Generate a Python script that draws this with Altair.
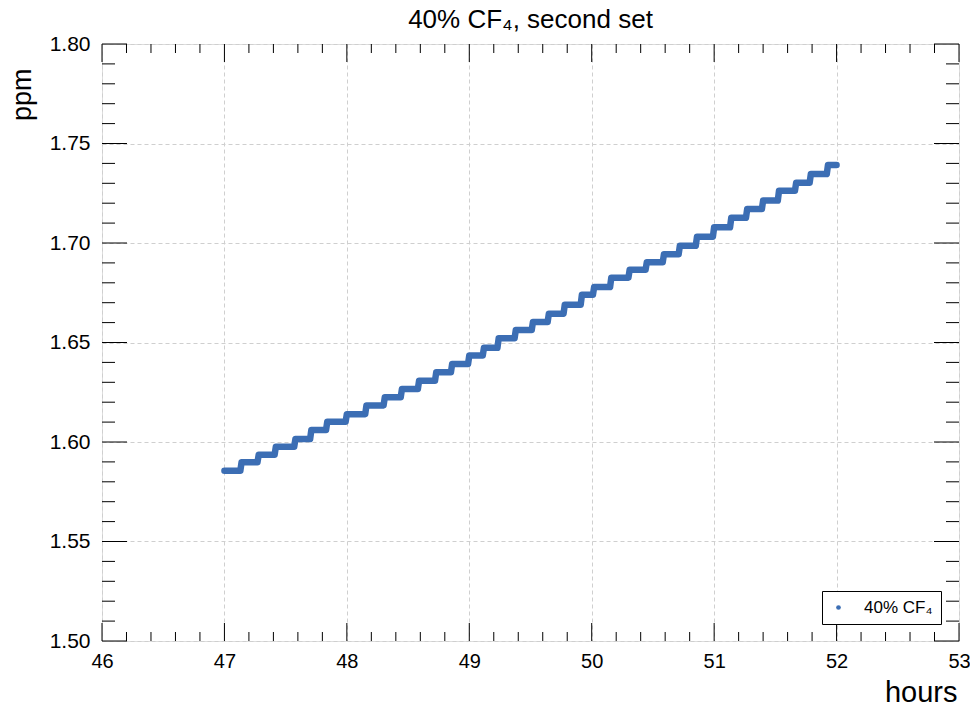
import altair as alt
import pandas as pd

# ---- data (staircase of 37 plateaus) ----
step_start = [47.00, 47.14, 47.28, 47.42, 47.58, 47.71, 47.84, 48.00, 48.16, 48.31,
              48.45, 48.59, 48.73, 48.86, 49.00, 49.12, 49.24, 49.38, 49.52, 49.65,
              49.78, 49.92, 50.02, 50.16, 50.31, 50.45, 50.59, 50.72, 50.86, 51.00,
              51.14, 51.27, 51.40, 51.53, 51.67, 51.79, 51.93]
step_end = [47.13, 47.27, 47.41, 47.57, 47.70, 47.83, 47.99, 48.15, 48.30, 48.44,
            48.58, 48.72, 48.85, 48.99, 49.11, 49.23, 49.37, 49.51, 49.64, 49.77,
            49.91, 50.01, 50.15, 50.30, 50.44, 50.58, 50.71, 50.85, 50.99, 51.13,
            51.26, 51.39, 51.52, 51.66, 51.78, 51.92, 52.00]
step_ppm = [1.5856, 1.5898, 1.5936, 1.5976, 1.6015, 1.6060, 1.6102, 1.6140, 1.6184, 1.6225,
            1.6266, 1.6308, 1.6350, 1.6392, 1.6435, 1.6473, 1.6521, 1.6563, 1.6603, 1.6645,
            1.6690, 1.6740, 1.6779, 1.6826, 1.6866, 1.6903, 1.6943, 1.6986, 1.7032, 1.7079,
            1.7127, 1.7171, 1.7213, 1.7263, 1.7303, 1.7347, 1.7392]
series_name = "40% CF\u2084"
title_text = "40% CF\u2084, second set"

x_major = [46, 47, 48, 49, 50, 51, 52, 53]
x_minor = [46.2, 46.4, 46.6, 46.8, 47.2, 47.4, 47.6, 47.8, 48.2, 48.4, 48.6, 48.8,
           49.2, 49.4, 49.6, 49.8, 50.2, 50.4, 50.6, 50.8, 51.2, 51.4, 51.6, 51.8,
           52.2, 52.4, 52.6, 52.8]
y_major = [1.50, 1.55, 1.60, 1.65, 1.70, 1.75, 1.80]
y_minor = [1.51, 1.52, 1.53, 1.54, 1.56, 1.57, 1.58, 1.59, 1.61, 1.62, 1.63, 1.64,
           1.66, 1.67, 1.68, 1.69, 1.71, 1.72, 1.73, 1.74, 1.76, 1.77, 1.78, 1.79]

rows = []
for i, (s, e, p) in enumerate(zip(step_start, step_end, step_ppm)):
    rows.append({"hours": s, "ppm": p, "order": 2 * i, "series": series_name})
    rows.append({"hours": e, "ppm": p, "order": 2 * i + 1, "series": series_name})
df = pd.DataFrame(rows)

W, H = 857, 597
FONT = "Liberation Sans"
BLUE = "#3c6eb4"

xscale = alt.Scale(domain=[46, 53], nice=False, zero=False)
yscale = alt.Scale(domain=[1.5, 1.8], nice=False, zero=False)

xaxis = alt.Axis(values=x_major, format="d", title="hours", grid=True, ticks=False,
                 domain=False, labelPadding=10, labelFontSize=20, labelFont=FONT,
                 labelColor="black", labelFlush=False,
                 gridColor="#cfcfcf", gridDash=[4, 3], gridWidth=1,
                 titleFont=FONT, titleFontSize=29, titleFontWeight="normal",
                 titleColor="black", titleX=W - 2, titleY=60, titleAlign="right",
                 titleBaseline="alphabetic")
yaxis = alt.Axis(values=y_major, format=".2f", title="ppm", grid=True, ticks=False,
                 domain=False, labelPadding=12, labelFontSize=21, labelFont=FONT,
                 labelColor="black", labelFlush=False,
                 gridColor="#cfcfcf", gridDash=[4, 3], gridWidth=1,
                 titleFont=FONT, titleFontSize=27, titleFontWeight="normal",
                 titleColor="black", titleX=-80, titleY=24, titleAngle=270,
                 titleAlign="right", titleBaseline="middle")

line = alt.Chart(df).mark_line(color=BLUE, strokeWidth=6.5, strokeCap="round",
                               strokeJoin="round").encode(
    x=alt.X("hours:Q", scale=xscale, axis=xaxis),
    y=alt.Y("ppm:Q", scale=yscale, axis=yaxis),
    order="order:Q",
)

pts = alt.Chart(df).mark_circle(size=22, opacity=1).encode(
    x=alt.X("hours:Q", scale=xscale, axis=xaxis),
    y=alt.Y("ppm:Q", scale=yscale, axis=yaxis),
    color=alt.Color("series:N", scale=alt.Scale(range=[BLUE]),
                    legend=alt.Legend(title=None, orient="none", legendX=720, legendY=547,
                                      strokeColor="black", fillColor="white", padding=8,
                                      labelFont=FONT, labelFontSize=17, labelColor="black",
                                      labelOffset=17, symbolSize=22, symbolType="circle",
                                      cornerRadius=0)),
)


def xticks(vals, length, top):
    d = pd.DataFrame({"v": vals})
    if top:
        yv, y2v = 0, length
    else:
        yv, y2v = H, H - length
    return alt.Chart(d).mark_rule(color="black", strokeWidth=1).encode(
        x=alt.X("v:Q", scale=xscale),
        y=alt.value(yv), y2=alt.value(y2v))


def yticks(vals, length, right):
    d = pd.DataFrame({"v": vals})
    if right:
        xv, x2v = W, W - length
    else:
        xv, x2v = 0, length
    return alt.Chart(d).mark_rule(color="black", strokeWidth=1).encode(
        y=alt.Y("v:Q", scale=yscale),
        x=alt.value(xv), x2=alt.value(x2v))


ticks = [
    xticks(x_major, 18, False), xticks(x_minor, 9, False),
    xticks(x_major, 18, True), xticks(x_minor, 9, True),
    yticks(y_major, 25, False), yticks(y_minor, 13, False),
    yticks(y_major, 25, True), yticks(y_minor, 13, True),
]

chart = alt.layer(line, pts, *ticks).properties(
    width=W, height=H,
    padding={"left": 102, "top": 44, "right": 11, "bottom": 67},
    autosize=alt.AutoSizeParams(type="none"),
    title=alt.Title(title_text, font=FONT, fontSize=26, fontWeight="normal",
                    color="black", anchor="middle", offset=0),
).configure_view(stroke="black", strokeWidth=1).configure(background="white")

chart.save("out.html", embed_options={"renderer": "svg", "actions": False})
